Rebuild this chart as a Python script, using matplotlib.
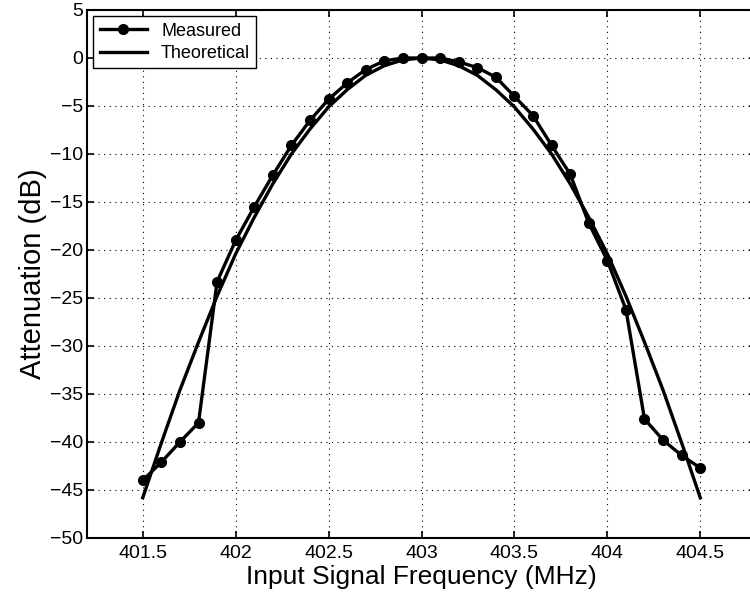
import matplotlib
matplotlib.use("Agg")
import matplotlib.pyplot as plt

freq = [401.5, 401.6, 401.7, 401.8, 401.9, 402.0, 402.1, 402.2, 402.3, 402.4,
        402.5, 402.6, 402.7, 402.8, 402.9, 403.0, 403.1, 403.2, 403.3, 403.4,
        403.5, 403.6, 403.7, 403.8, 403.9, 404.0, 404.1, 404.2, 404.3, 404.4, 404.5]
measured = [-44.0, -42.1, -40.0, -38.0, -23.3, -19.0, -15.5, -12.2, -9.1, -6.5,
            -4.3, -2.6, -1.2, -0.3, 0.0, 0.0, 0.0, -0.4, -1.0, -2.0,
            -4.0, -6.0, -9.1, -12.1, -17.2, -21.1, -26.2, -37.6, -39.8, -41.4, -42.7]
theoretical = [-45.8, -40.1, -34.6, -29.6, -24.8, -20.4, -16.6, -13.1, -10.0, -7.4,
               -5.1, -3.3, -1.8, -0.8, -0.2, 0.0, -0.2, -0.8, -1.8, -3.3,
               -5.1, -7.4, -10.0, -13.1, -16.6, -20.4, -24.8, -29.6, -34.6, -40.1, -45.8]
xticks = [401.5, 402, 402.5, 403, 403.5, 404, 404.5]
xticklabels = ["401.5", "402", "402.5", "403", "403.5", "404", "404.5"]
yticks = [5, 0, -5, -10, -15, -20, -25, -30, -35, -40, -45, -50]

plt.rcParams['font.family'] = ['Liberation Sans', 'DejaVu Sans']

fig = plt.figure(figsize=(7.5, 5.99), dpi=100)
ax = fig.add_axes([87/750, 1-538/599, (756-87)/750, (538-10)/599])

ax.plot(freq, measured, color='black', lw=2.4, marker='o', ms=7, label='Measured')
ax.plot(freq, theoretical, color='black', lw=2.4, label='Theoretical')

ax.set_xlim(401.2, 404.8)
ax.set_ylim(-50, 5)
ax.set_xticks(xticks)
ax.set_xticklabels(xticklabels)
ax.set_yticks(yticks)
ax.grid(True, color='black', linestyle=(0, (1, 4)), lw=0.8)
ax.tick_params(direction='in', length=5, width=1.2, labelsize=14, top=True, right=True)
ax.tick_params(axis='y', pad=3)
ax.tick_params(axis='x', pad=5)
for s in ax.spines.values():
    s.set_linewidth(1.5)

ax.set_xlabel('Input Signal Frequency (MHz)', fontsize=19, labelpad=2)
ax.set_ylabel('Attenuation (dB)', fontsize=21, labelpad=2)

leg = ax.legend(loc='upper left', fontsize=13, frameon=True, fancybox=False,
                edgecolor='black', framealpha=1, borderpad=0.35, handlelength=2.6,
                labelspacing=0.3, borderaxespad=0.35)
leg.get_frame().set_linewidth(1.0)

fig.savefig('out.png', dpi=100)
